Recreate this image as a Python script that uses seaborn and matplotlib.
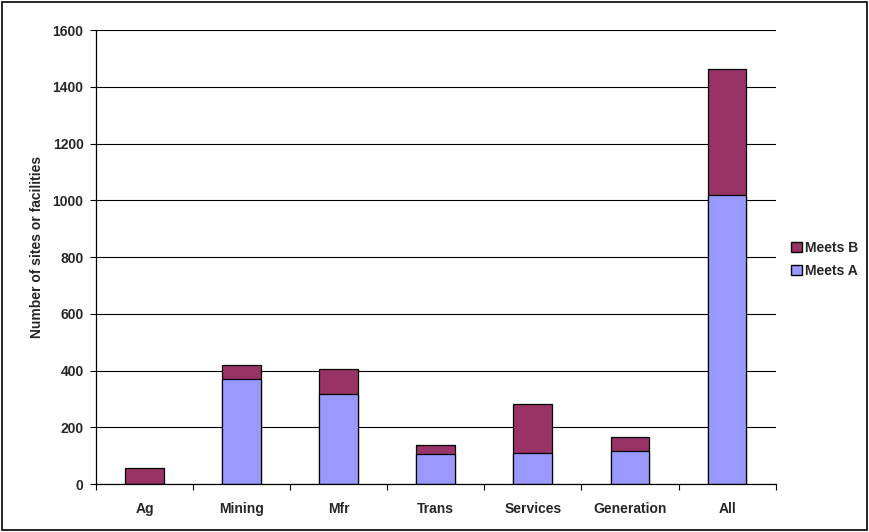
import matplotlib
matplotlib.use("Agg")
import matplotlib.pyplot as plt
import seaborn as sns
import numpy as np
from matplotlib.patches import Patch, Rectangle
from matplotlib.ticker import FixedLocator

# data
categories = ["Ag", "Mining", "Mfr", "Trans", "Services", "Generation", "All"]
meets_a = [0, 369, 317, 107, 109, 115, 1019]
meets_b = [58, 50, 90, 31, 172, 52, 444]

totals = [a + b for a, b in zip(meets_a, meets_b)]

sns.set_style("white")
plt.rcParams["font.family"] = ["Liberation Sans", "DejaVu Sans"]

cor_a = "#9999FF"
cor_b = "#993366"

fig = plt.figure(figsize=(8.69, 5.32), dpi=100)
ax = fig.add_axes([0.1105, 0.0902, 0.782, 0.8534])

# gridlines behind bars
ax.set_axisbelow(True)
ax.yaxis.grid(True, color="black", linewidth=0.8)

# stacked: total first (Meets B colour), then Meets A on top of it
sns.barplot(x=categories, y=totals, color=cor_b, saturation=1, width=0.4,
            edgecolor="black", linewidth=0.9, ax=ax)
sns.barplot(x=categories, y=meets_a, color=cor_a, saturation=1, width=0.4,
            edgecolor="black", linewidth=0.9, ax=ax)

ax.set_ylim(0, 1600)
ax.set_xlim(-0.5, len(categories) - 0.5)
ax.set_yticks(np.arange(0, 1601, 200))
ax.set_ylabel("Number of sites or facilities", fontsize=10, fontweight="bold")
ax.yaxis.set_label_coords(-0.076, 0.522)
ax.set_xlabel("")

for lbl in ax.get_xticklabels() + ax.get_yticklabels():
    lbl.set_fontsize(10)
    lbl.set_fontweight("bold")

# excel style ticks: between categories on x
ax.xaxis.set_minor_locator(FixedLocator(np.arange(-0.5, len(categories), 1)))
ax.tick_params(axis="x", which="major", length=0, pad=13)
ax.tick_params(axis="x", which="minor", length=4, width=0.8, color="black", direction="out", bottom=True)
ax.tick_params(axis="y", length=4, width=0.8, color="black", direction="out", left=True, pad=5)

for s in ["top", "right"]:
    ax.spines[s].set_visible(False)
for s in ["left", "bottom"]:
    ax.spines[s].set_color("black")
    ax.spines[s].set_linewidth(0.9)

handles = [Patch(facecolor=cor_b, edgecolor="black", label="Meets B"),
           Patch(facecolor=cor_a, edgecolor="black", label="Meets A")]
leg = fig.legend(handles=handles, loc="center left", bbox_to_anchor=(0.896, 0.513),
                 frameon=False, handlelength=0.75, handleheight=0.75, handletextpad=0.25,
                 labelspacing=0.65, prop={"size": 10, "weight": "bold"})

# border round the whole figure
fig.patches.append(Rectangle((0.002, 0.003), 0.996, 0.994, transform=fig.transFigure,
                             fill=False, edgecolor="black", linewidth=1.2))

fig.savefig("out.png", dpi=100)
